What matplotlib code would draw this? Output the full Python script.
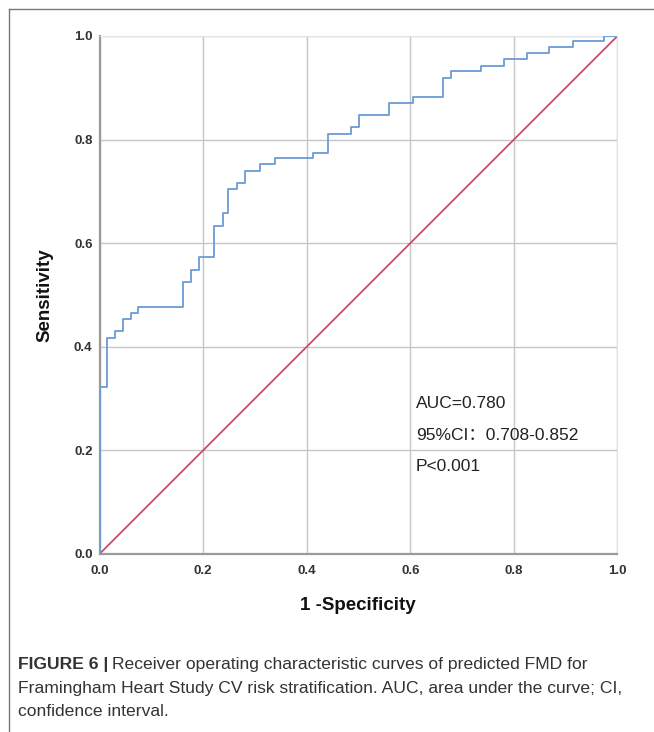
import matplotlib
matplotlib.use('Agg')
import matplotlib.pyplot as plt
from matplotlib.lines import Line2D

# ROC step curve (1 - specificity, sensitivity)
fpr = [0, 0, 0.014, 0.030, 0.046, 0.060, 0.075, 0.161, 0.176, 0.193, 0.222,
       0.238, 0.249, 0.265, 0.281, 0.310, 0.339, 0.413, 0.442, 0.486, 0.501,
       0.559, 0.605, 0.664, 0.679, 0.736, 0.781, 0.825, 0.868, 0.914, 0.973, 1.0]
tpr = [0, 0.322, 0.417, 0.430, 0.454, 0.466, 0.477, 0.525, 0.548, 0.573, 0.633,
       0.658, 0.704, 0.717, 0.739, 0.753, 0.764, 0.775, 0.811, 0.824, 0.848,
       0.870, 0.883, 0.919, 0.932, 0.943, 0.955, 0.967, 0.979, 0.991, 1.0, 1.0]
ref_line = [0, 1]
ticks = [0.0, 0.2, 0.4, 0.6, 0.8, 1.0]
tick_labels = ["0.0", "0.2", "0.4", "0.6", "0.8", "1.0"]
stats = ["AUC=0.780", "95%CI：0.708-0.852", "P<0.001"]

FONT = ['Liberation Sans', 'Noto Sans CJK SC', 'DejaVu Sans']
plt.rcParams['font.family'] = FONT

W, H = 654, 732
fig = plt.figure(figsize=(W / 100, H / 100), dpi=100)

# frame of the figure panel (left and top rules)
fig.add_artist(Line2D([8.5 / W, 8.5 / W], [0, 1 - 9 / H], color='#777777', lw=1.0))
fig.add_artist(Line2D([8.5 / W, 1], [1 - 9 / H, 1 - 9 / H], color='#777777', lw=1.0))

x0, x1, y0, y1 = 99.5, 617.5, 554, 36
ax = fig.add_axes([x0 / W, 1 - y0 / H, (x1 - x0) / W, (y0 - y1) / H])

ax.step(fpr, tpr, where='post', color='#6b9bd6', lw=1.3, zorder=3)
ax.plot(ref_line, ref_line, color='#cc4a6a', lw=1.3, zorder=2)

ax.set_xlim(0, 1)
ax.set_ylim(0, 1)
ax.set_xticks(ticks)
ax.set_yticks(ticks)
ax.set_xticklabels(tick_labels)
ax.set_yticklabels(tick_labels)
ax.tick_params(length=0, labelsize=9.5, labelcolor='#333333')
ax.tick_params(axis='x', pad=8)
ax.tick_params(axis='y', pad=5)
for lab in ax.get_xticklabels() + ax.get_yticklabels():
    lab.set_fontweight('bold')
ax.grid(True, color='#c6c6c6', lw=1.0)
ax.set_axisbelow(True)
for side in ['top', 'right']:
    ax.spines[side].set_color('#e4e4e4')
    ax.spines[side].set_linewidth(0.8)
for side in ['left', 'bottom']:
    ax.spines[side].set_color('#9a9a9a')
    ax.spines[side].set_linewidth(1.6)

fig.text(45 / W, 1 - 295 / H, "Sensitivity", rotation=90, ha='center', va='center',
         fontsize=13.5, fontweight='bold', color='#111111')
fig.text(358 / W, 1 - 606 / H, "1 -Specificity", ha='center', va='center',
         fontsize=13.5, fontweight='bold', color='#111111')

for i, s in enumerate(stats):
    fig.text(416 / W, 1 - (404 + 31 * i) / H, s, ha='left', va='center',
             fontsize=12.5, color='#222222')

# caption
cap_size = 12.6
fig.canvas.draw()
r = fig.canvas.get_renderer()
t = fig.text(18 / W, 1 - 664 / H, "FIGURE 6 |", ha='left', va='center',
             fontsize=cap_size, fontweight='bold', color='#333333')
bb = t.get_window_extent(renderer=r)
fig.text((bb.x1 + 4) / W, 1 - 664 / H,
         "Receiver operating characteristic curves of predicted FMD for",
         ha='left', va='center', fontsize=cap_size, color='#333333')
fig.text(18 / W, 1 - 688 / H,
         "Framingham Heart Study CV risk stratification. AUC, area under the curve; CI,",
         ha='left', va='center', fontsize=cap_size, color='#333333')
fig.text(18 / W, 1 - 712 / H, "confidence interval.",
         ha='left', va='center', fontsize=cap_size, color='#333333')

fig.savefig("out.png", dpi=100)
plt.close(fig)
